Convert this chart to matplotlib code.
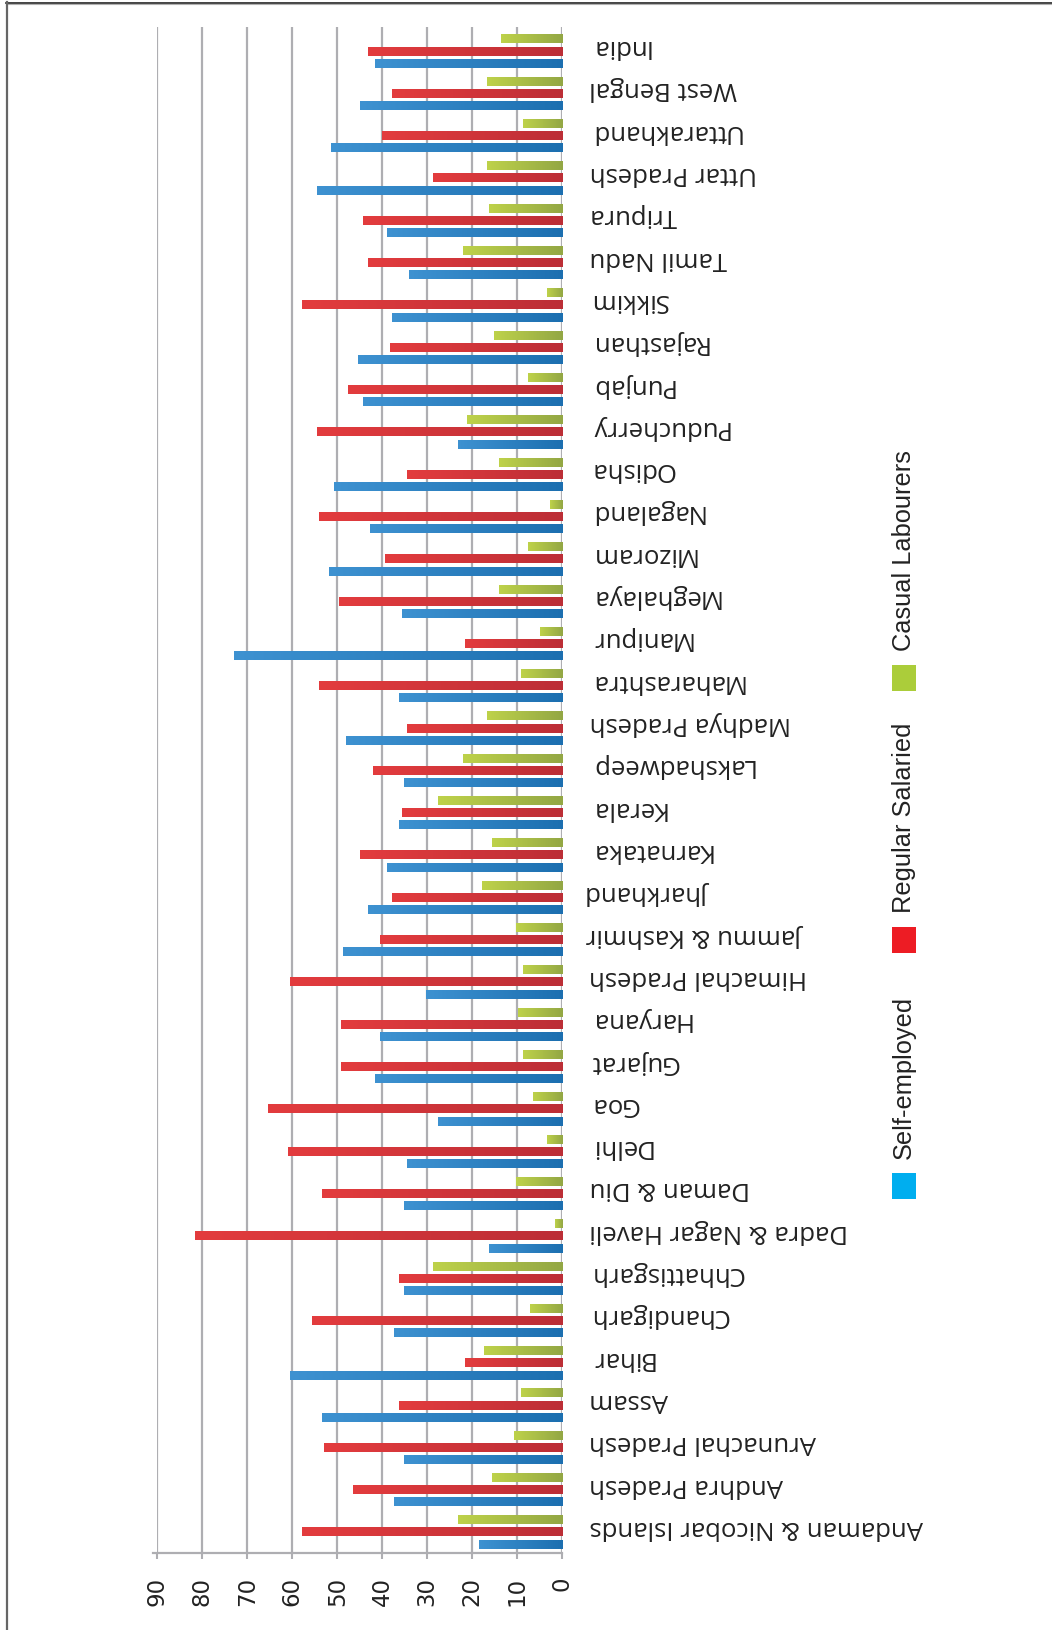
import numpy as np
import matplotlib
matplotlib.use("Agg")
import matplotlib.pyplot as plt
from matplotlib.colors import LinearSegmentedColormap
from matplotlib.patches import Rectangle
from matplotlib.lines import Line2D
from matplotlib.transforms import ScaledTranslation

# ---------------- data (bottom -> top in the picture) ----------------
states = ["Andaman & Nicobar Islands", "Andhra Pradesh", "Arunachal Pradesh", "Assam",
          "Bihar", "Chandigarh", "Chhattisgarh", "Dadra & Nagar Haveli", "Daman & Diu",
          "Delhi", "Goa", "Gujarat", "Haryana", "Himachal Pradesh", "Jammu & Kashmir",
          "Jharkhand", "Karnataka", "Kerala", "Lakshadweep", "Madhya Pradesh",
          "Maharashtra", "Manipur", "Meghalaya", "Mizoram", "Nagaland", "Odisha",
          "Puducherry", "Punjab", "Rajasthan", "Sikkim", "Tamil Nadu", "Tripura",
          "Uttar Pradesh", "Uttarakhand", "West Bengal", "India"]

self_employed = [18.5, 37.4, 35.2, 53.4, 60.5, 37.4, 35.2, 16.3, 35.2, 34.5, 27.6, 41.6,
                 40.5, 30.3, 48.7, 43.2, 39.0, 36.3, 35.2, 48.1, 36.3, 73.0, 35.6, 51.9,
                 42.7, 50.7, 23.2, 44.3, 45.4, 37.9, 34.1, 39.0, 54.5, 51.4, 45.0, 41.6]
regular_salaried = [57.9, 46.5, 53.0, 36.3, 21.6, 55.6, 36.3, 81.6, 53.4, 61.0, 65.4, 49.2,
                    49.2, 60.5, 40.5, 37.9, 45.0, 35.6, 42.1, 34.5, 54.1, 21.6, 49.6, 39.4,
                    54.1, 34.5, 54.5, 47.6, 38.3, 57.9, 43.2, 44.3, 28.7, 40.1, 37.9, 43.2]
casual_labourers = [23.2, 15.6, 10.7, 9.2, 17.4, 7.2, 28.7, 1.6, 10.3, 3.4, 6.5, 8.7,
                    9.9, 8.7, 10.3, 17.9, 15.6, 27.6, 22.1, 16.7, 9.2, 5.0, 14.1, 7.6,
                    2.7, 14.1, 21.2, 7.6, 15.2, 3.4, 22.1, 16.3, 16.7, 8.7, 16.7, 13.6]

series_names = ["Self-employed", "Regular Salaried", "Casual Labourers"]
value_ticks = [0, 10, 20, 30, 40, 50, 60, 70, 80, 90]

# ---------------- styling ----------------
W, H = 1052, 1631
fig = plt.figure(figsize=(W / 100, H / 100), dpi=100)
fig.patch.set_facecolor("white")


def fx(x):
    return x / W


def fy(y):
    return 1 - y / H


ax = fig.add_axes([fx(157.3), fy(1554), fx(562.3) - fx(157.3), fy(28.3) - fy(1554)])

grads = [("#3E92D1", "#1C6FB0"), ("#E33C3E", "#BC2E36"), ("#BED24A", "#93A744")]
offsets = [-0.29, 0.0, 0.285]
bar_h = 0.19
gradient = np.linspace(0, 1, 256).reshape(1, -1)

y = np.arange(len(states))
for vals, off, (c_light, c_dark) in zip([self_employed, regular_salaried, casual_labourers],
                                       offsets, grads):
    cmap = LinearSegmentedColormap.from_list("g", [c_light, c_dark])
    bars = ax.barh(y + off, vals, height=bar_h, color=c_dark, linewidth=0, zorder=3)
    for b in bars:
        x0 = b.get_x()
        x1 = x0 + b.get_width()
        y0 = b.get_y()
        y1 = y0 + b.get_height()
        ax.imshow(gradient, extent=(x1, x0, y0, y1), aspect="auto", cmap=cmap,
                  interpolation="bilinear", zorder=4)

ax.set_xlim(90, 0)
ax.set_ylim(-0.485, len(states) - 1 + 0.572)

grid_c = "#AEAEB2"
ax.set_xticks(value_ticks)
ax.set_xticklabels([str(v) for v in value_ticks], rotation=90, fontsize=16.5,
                   family="DejaVu Sans", color="#222222")
ax.xaxis.grid(True, color=grid_c, linewidth=1.6, zorder=1)
ax.set_axisbelow(True)
ax.tick_params(axis="x", direction="out", length=4.5, width=1.5, color=grid_c, pad=12)

ax.yaxis.tick_right()
ax.set_yticks(y)
ax.set_yticklabels(states, rotation=180, fontsize=18.5, family="Open Sans",
                   color="#222222", va="center", ha="left")
ax.tick_params(axis="y", length=0, pad=19.5)
shift = ScaledTranslation(0, 6 / 100, fig.dpi_scale_trans)
for lab in ax.get_yticklabels():
    lab.set_transform(lab.get_transform() + shift)

for s in ["top", "left", "right"]:
    ax.spines[s].set_visible(False)
ax.spines["bottom"].set_color(grid_c)
ax.spines["bottom"].set_linewidth(1.6)
ax.spines["bottom"].set_bounds(90.9, 0)
ax.patch.set_alpha(0)

# ---------------- legend (manual, rotated) ----------------
leg_colors = ["#00AEEF", "#ED1C24", "#ABCD3A"]
sq_tops = [1174, 928, 666]
for name, col, top in zip(series_names, leg_colors, sq_tops):
    fig.add_artist(Rectangle((fx(892), fy(top + 26)), fx(916) - fx(892), fy(top) - fy(top + 26),
                             transform=fig.transFigure, facecolor=col, edgecolor="none"))
    fig.text(fx(892), fy(top - 15), name, rotation=90, ha="left", va="bottom",
             fontsize=18.3, family=["Liberation Sans Narrow", "Liberation Sans"],
             color="#222222")

# ---------------- frame ----------------
fig.add_artist(Line2D([fx(6), 1], [fy(3.5), fy(3.5)], transform=fig.transFigure,
                      color="#222222", linewidth=1.2))
fig.add_artist(Line2D([fx(7), 1], [fy(5.2), fy(5.2)], transform=fig.transFigure,
                      color="#B0B0B0", linewidth=0.8))
fig.add_artist(Line2D([fx(7), fx(7)], [fy(3), 0], transform=fig.transFigure,
                      color="#666666", linewidth=1.6))

fig.savefig("out.png", dpi=100, facecolor="white")
